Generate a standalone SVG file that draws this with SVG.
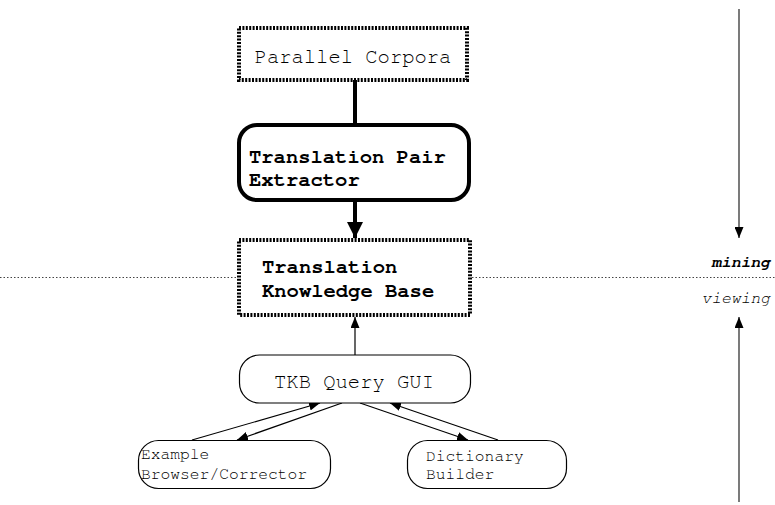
<svg xmlns="http://www.w3.org/2000/svg" width="775" height="505" viewBox="0 0 775 505">
  <defs>
    <style>
      .dotbox { fill: #fff; stroke: #000; stroke-width: 4; stroke-dasharray: 2 1.4; }
      .thickbox { fill: #fff; stroke: #000; stroke-width: 4; }
      .thinbox { fill: #fff; stroke: #000; stroke-width: 1.2; }
      .mono { font-family: "Nimbus Mono PS", "FreeMono", "Liberation Mono", "Courier New", monospace; fill: #000; }
      .big { font-size: 20.5px; }
      .bold { font-weight: bold; }
      .small { font-size: 16.3px; }
      .edge { fill: none; stroke: #000; stroke-width: 1.2; }
      .heavy { fill: none; stroke: #000; stroke-width: 4; }
      .divider { fill: none; stroke: #444; stroke-width: 1; stroke-dasharray: 1.5 2; }
      .side { fill: none; stroke: #333; stroke-width: 1.3; }
    </style>
    <marker id="headBig" markerUnits="userSpaceOnUse" markerWidth="16" markerHeight="16" refX="16" refY="8" orient="auto">
      <path d="M0,0 L16,8 L0,16 Z" fill="#000"/>
    </marker>
    <marker id="head" markerUnits="userSpaceOnUse" markerWidth="11" markerHeight="9" refX="11" refY="4.5" orient="auto">
      <path d="M0,0 L11,4.5 L0,9 Z" fill="#000"/>
    </marker>
  </defs>

  <!-- mining / viewing divider -->
  <g id="divider">
    <line class="divider" x1="0" y1="277.5" x2="237" y2="277.5"/>
    <line class="divider" x1="472" y1="277.5" x2="775" y2="277.5"/>
    <text class="mono bold small" x="770" y="267" text-anchor="end" font-style="italic">mining</text>
    <text class="mono small" x="770" y="303" text-anchor="end" font-style="italic">viewing</text>
    <line class="side" x1="739" y1="9" x2="739" y2="238" marker-end="url(#head)"/>
    <line class="side" x1="739" y1="502" x2="739" y2="317" marker-end="url(#head)"/>
  </g>

  <!-- connectors -->
  <g id="connectors">
    <line class="heavy" x1="355" y1="80" x2="355" y2="125"/>
    <line class="heavy" x1="355" y1="200" x2="355" y2="238" marker-end="url(#headBig)"/>
    <line class="edge" x1="355" y1="355" x2="355" y2="317" marker-end="url(#head)"/>
    <line class="edge" x1="192" y1="440" x2="320" y2="403" marker-end="url(#head)"/>
    <line class="edge" x1="342" y1="403" x2="237" y2="440" marker-end="url(#head)"/>
    <line class="edge" x1="360" y1="403" x2="468" y2="440" marker-end="url(#head)"/>
    <line class="edge" x1="498" y1="440" x2="390" y2="403" marker-end="url(#head)"/>
  </g>

  <g id="parallel-corpora">
    <rect class="dotbox" x="239" y="28" width="228" height="52"/>
    <text class="mono big" x="353" y="63" text-anchor="middle">Parallel Corpora</text>
  </g>

  <g id="pair-extractor">
    <rect class="thickbox" x="239" y="125" width="230" height="75" rx="18"/>
    <text class="mono big bold" x="249" y="163">Translation Pair</text>
    <text class="mono big bold" x="249" y="186">Extractor</text>
  </g>

  <g id="knowledge-base">
    <rect class="dotbox" x="239" y="240" width="231" height="75"/>
    <text class="mono big bold" x="262" y="273">Translation</text>
    <text class="mono big bold" x="262" y="297">Knowledge Base</text>
  </g>

  <g id="tkb-query-gui">
    <rect class="thinbox" x="239.5" y="355" width="231" height="48" rx="20"/>
    <text class="mono big" x="354" y="388" text-anchor="middle">TKB Query GUI</text>
  </g>

  <g id="example-browser">
    <rect class="thinbox" x="138.5" y="440.5" width="192" height="48" rx="20"/>
    <text class="mono small" x="141" y="459">Example</text>
    <text class="mono small" x="141" y="479">Browser/Corrector</text>
  </g>

  <g id="dictionary-builder">
    <rect class="thinbox" x="407.5" y="440.5" width="159" height="48" rx="20"/>
    <text class="mono small" x="426" y="461">Dictionary</text>
    <text class="mono small" x="426" y="479">Builder</text>
  </g>
</svg>
